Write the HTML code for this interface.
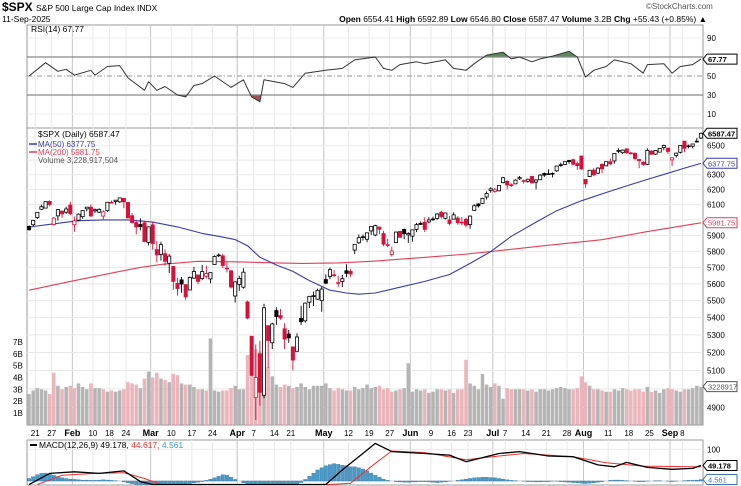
<!DOCTYPE html>
<html><head><meta charset="utf-8"><style>
html,body{margin:0;padding:0;background:#fff;width:741px;height:486px;overflow:hidden;}
svg{display:block;font-family:"Liberation Sans",sans-serif;}
</style></head><body>
<svg id="c" width="741" height="486" viewBox="0 0 741 486" xmlns="http://www.w3.org/2000/svg">
<text x="2" y="11" font-size="12" font-weight="bold">$SPX</text>
<text x="36" y="11" font-size="8.5">S&amp;P 500 Large Cap Index  INDX</text>
<text x="2" y="22" font-size="8.5">11-Sep-2025</text>
<text x="646" y="9" font-size="8" fill="#555">©StockCharts.com</text>
<text x="707" y="22" font-size="8.5" text-anchor="end"><tspan font-weight="bold">Open</tspan> 6554.41 <tspan font-weight="bold">High</tspan> 6592.89 <tspan font-weight="bold">Low</tspan> 6546.80 <tspan font-weight="bold">Close</tspan> 6587.47 <tspan font-weight="bold">Volume</tspan> 3.2B <tspan font-weight="bold">Chg</tspan> +55.43 (+0.85%) ▲</text>
<g id="g"></g>
</svg>
<script>
const closes=[5937,5997,6049,6086,6119,6101,6012,6067,6039,6071,6040,
5994,6037,6061,6083,6026,6066,6068,6052,6115,6114,6129,6144,6118,6013,5983,5955,5956,5861,5955,
5849,5778,5842,5738,5770,5615,5572,5599,5522,5639,5675,5615,5675,5663,5668,5768,5777,5712,5693,5581,5612,
5633,5671,5397,5074,5062,4982,5457,5268,5363,5406,5397,5276,5283,5158,5288,5376,5485,5525,5529,5561,5569,
5604,5687,5650,5607,5631,5664,5660,5844,5886,5892,5917,5958,5963,5940,5845,5842,5802,5922,5889,5912,5912,
5936,5970,5971,5939,6000,6006,6038,6022,6045,5977,6033,5982,5981,5967,6025,6092,6092,6141,6173,6205,
6198,6227,6279,6230,6226,6263,6280,6260,6269,6244,6264,6297,6297,6306,6309,6359,6363,6389,6390,6371,6362,6339,
6238,6330,6299,6345,6340,6389,6374,6446,6466,6469,6450,6449,6411,6396,6370,6467,6440,6466,6481,6502,6460,
6416,6448,6502,6482,6495,6512,6532,6587];
const opens=[5958,5969,6015,6069,6077,6121,5970,6026,6057,6050,6097,
5969,5998,6021,6072,6083,6059,6050,6025,6060,6115,6121,6118,6141,6114,6027,5983,5970,5981,5856,
5968,5811,5781,5785,5726,5706,5603,5624,5595,5563,5635,5654,5632,5646,5630,5718,5775,5772,5696,5679,5527,
5597,5580,5492,5292,4953,5193,4966,5353,5255,5441,5412,5335,5305,5232,5207,5395,5381,5490,5529,5508,5500,
5626,5645,5655,5605,5614,5680,5676,5808,5854,5887,5876,5929,5903,5954,5912,5842,5781,5855,5926,5939,5904,
5896,5939,5978,5985,5987,6005,6009,6050,6010,6000,6005,6012,5985,6004,5970,6062,6104,6108,6150,6194,
6187,6191,6246,6255,6232,6238,6272,6256,6255,6288,6249,6266,6308,6305,6306,6326,6368,6370,6397,6403,6376,6428,
6268,6287,6331,6310,6370,6360,6389,6394,6463,6451,6478,6445,6447,6404,6384,6371,6463,6441,6455,6487,6483,
6401,6432,6454,6532,6499,6496,6532,6554];
const highs=[5965,6000,6051,6100,6119,6128,6018,6070,6062,6087,6120,
6022,6042,6062,6084,6101,6074,6076,6063,6116,6127,6130,6147,6142,6114,6044,5992,6010,5994,5959,
5986,5865,5860,5812,5783,5706,5636,5642,5599,5645,5704,5654,5715,5711,5670,5775,5787,5784,5732,5685,5616,
5650,5695,5500,5292,5246,5267,5481,5353,5370,5460,5450,5368,5328,5233,5309,5469,5489,5528,5553,5571,5581,
5658,5700,5683,5649,5655,5720,5692,5845,5907,5906,5917,5959,5969,5954,5930,5878,5829,5924,5930,5944,5921,
5937,5981,5990,6017,6017,6021,6044,6060,6046,6026,6050,6024,6019,6014,6029,6102,6109,6146,6187,6215,
6210,6228,6284,6262,6242,6269,6291,6266,6272,6290,6269,6304,6315,6336,6316,6360,6382,6390,6401,6410,6390,6428,
6268,6330,6345,6350,6379,6390,6411,6446,6481,6474,6481,6456,6453,6409,6394,6482,6467,6469,6484,6508,6485,
6416,6452,6503,6532,6508,6513,6555,6593];
const lows=[5930,5960,6006,6066,6075,6088,5962,5995,6013,6039,6031,
5924,5991,6007,6055,6019,6046,6044,6003,6051,6107,6099,6111,6076,6009,5977,5908,5932,5858,5837,
5810,5732,5743,5711,5666,5564,5529,5546,5504,5563,5630,5597,5622,5632,5603,5718,5765,5695,5670,5572,5488,
5558,5571,5390,5069,4835,4910,4950,5115,5220,5358,5387,5220,5255,5101,5207,5356,5371,5456,5468,5505,5434,
5598,5629,5640,5582,5580,5640,5643,5782,5846,5867,5857,5904,5895,5909,5833,5826,5767,5855,5885,5876,5853,
5861,5921,5967,5922,5978,5994,6001,6008,6003,5964,6005,5969,5966,5952,5943,6059,6080,6105,6133,6178,
6178,6188,6241,6201,6217,6236,6264,6240,6246,6243,6201,6264,6285,6303,6282,6318,6354,6365,6375,6364,6333,6333,
6212,6287,6289,6305,6309,6359,6364,6375,6447,6441,6445,6438,6399,6344,6360,6365,6438,6436,6454,6468,6444,
6360,6418,6445,6454,6482,6481,6521,6547];
const volumes=[2.6,2.9,3.1,3.0,2.9,2.6,4.4,3.3,3.0,3.2,3.3,
3.1,3.5,3.2,3.0,3.5,3.1,3.1,3.0,2.8,2.9,2.8,2.9,3.0,3.6,3.5,3.4,3.1,3.9,4.5,
4.0,4.4,3.9,3.8,3.6,4.3,4.2,3.5,3.4,3.4,3.2,3.0,3.0,2.9,7.3,2.9,2.8,2.9,2.9,3.1,3.3,
3.0,3.0,5.9,6.5,6.4,6.2,6.6,4.9,4.1,3.4,3.2,3.4,3.3,3.1,3.2,3.5,3.2,3.0,3.3,3.3,3.3,
3.5,3.1,2.9,3.1,3.0,2.9,2.9,3.2,3.0,3.1,3.4,3.1,3.2,3.3,3.0,3.1,2.8,2.9,3.0,3.1,5.2,
2.8,3.0,2.9,3.0,2.7,2.8,3.0,3.0,2.9,3.0,2.7,3.0,3.0,5.5,3.5,3.3,3.0,4.3,3.4,3.2,
3.5,3.3,2.2,3.1,3.0,3.0,3.0,3.0,2.9,3.0,2.8,3.0,3.0,2.9,3.0,3.1,3.2,3.1,3.0,3.0,3.1,4.1,
3.6,3.3,3.0,3.0,2.9,2.8,2.8,3.0,2.9,3.1,3.0,2.9,3.0,3.0,2.8,3.2,2.8,2.9,2.7,3.0,3.1,
3.0,2.9,2.8,3.0,3.0,3.1,3.3,3.2];
const ma50Days=[0,6,12,18,24,30,36,42,46,50,53,56,60,64,68,73,77,80,84,90,96,102,107,112,117,123,128,134,140,145,150,155,159,163];
const ma50Vals=[5954,5975,5995,6000,6000,5986,5955,5913,5895,5874,5835,5763,5715,5676,5620,5562,5545,5538,5545,5580,5615,5657,5725,5798,5895,5986,6060,6125,6180,6224,6268,6310,6345,6377];
const ma200Days=[0,10,22,27,32,41,50,60,66,75,83,95,105,112,125,139,150,163];
const ma200Vals=[5562,5615,5676,5700,5719,5738,5735,5728,5725,5728,5738,5760,5780,5798,5835,5873,5925,5981];
const rsiDays=[0,4,7,9,11,15,16,19,22,24,28,29,31,33,36,38,40,42,45,49,52,54,56,57,62,64,67,72,76,79,84,86,88,90,94,96,101,103,106,108,111,115,117,119,122,124,127,131,133,135,137,140,142,146,149,150,154,156,158,161,163];
const rsiVals=[50,64,55,57,51,56,51,60,61,48,35,44,35,39,30,28,40,42,50,38,46,28,23,46,42,38,53,56,58,67,70,58,56,62,65,63,67,58,56,63,72,75,68,70,65,68,71,76,70,49,56,60,67,63,53,62,63,53,60,62,67.77];
const macdDays=[0,5,11,17,23,27,30,36,45,55,65,72,76,80,84,88,96,102,106,114,119,126,132,138,142,145,150,156,161,163];
const macdVals=[-16,24,29,24,32,-2,-30,-60,-50,-130,-100,-16,35,77,119,93,87,82,61,87,93,79,77,51,45,59,43,37,40,49.178];
const sigDays=[2,8,16,23,28,32,50,65,73,78,84,88,96,106,114,120,132,140,149,163];
const sigVals=[-23,18,24,26,8,-20,-40,-75,-50,-7,56,95,90,67,79,87,77,58,47,44.617];
const hist=[8,14,20,24,25,22,18,14,10,8,6,5,4,3,3,2,2,3,4,3,2,1,0,-3,-6,-9,-12,
-15,-18,-20,-22,-22,-21,-20,-18,-16,-14,-12,-10,-8,-6,-4,-2,2,6,10,15,20,18,12,
5,0,-6,-12,-16,-20,-22,-24,-25,-25,-24,-22,-20,-18,-14,-10,-5,
5,15,25,35,42,48,52,55,53,50,48,45,45,42,38,32,25,18,12,6,2,0,
-2,-3,-4,-4,-3,-3,-2,-2,-3,-4,-5,-4,-3,-1,0,2,4,
6,8,10,11,12,12,11,10,8,6,4,2,1,0,-1,-2,-2,-3,-3,-2,-2,-1,-1,-2,-3,-4,-5,
-6,-7,-8,-7,-6,-4,-2,0,2,3,3,2,1,0,-1,-2,-2,-1,0,1,1,0,-1,-2,-1,0,1,2,2,3,4.561];
const tickDays=[2,6,11,16,20,24,30,35,40,45,51,55,60,64,72,78,83,88,93,98,103,107,113,116,121,126,131,135,141,146,151,156,159];
const tickLabels=['21','27','Feb','10','18','24','Mar','10','17','24','Apr','7','14','21','May','12','19','27','Jun','9','16','23','Jul','7','14','21','28','Aug','11','18','25','Sep','8'];
const monthTicks=['Feb','Mar','Apr','May','Jun','Jul','Aug','Sep'];
const priceTicks=[4900,5100,5200,5300,5400,5500,5600,5700,5800,5900,6100,6200,6300,6500];
const priceGrid=[4900,5000,5100,5200,5300,5400,5500,5600,5700,5800,5900,6000,6100,6200,6300,6400,6500];
const volTicks=[1,2,3,4,5,6,7];
const rsiTicks=[10,30,50,90];

const NS='http://www.w3.org/2000/svg';
const G=document.getElementById('g');
const L=27,R=703,N=164,STEP=(R-L)/N;
const X=i=>L+(i+0.5)*STEP;
const PY=v=>145.7+927*Math.log(6500/v);
const VY=v=>424.8-v*11.83;
const RY=v=>114-(v-10)*0.95;
const MY=v=>Math.min(484.5,481-v*0.316);
function mk(t,a,name,parent){const e=document.createElementNS(NS,t);for(const k in a)e.setAttribute(k,a[k]);


(parent||G).appendChild(e);return e;}
function txt(x,y,s,name,a){const e=mk('text',Object.assign({x:x,y:y,'font-size':8},a||{}),name);e.textContent=s;return e;}
function pts(days,vals,f){return days.map((d,k)=>X(d).toFixed(1)+','+f(vals[k]).toFixed(1)).join(' ');}
function poly(days,vals,f,name,a){return mk('polyline',Object.assign({points:pts(days,vals,f),fill:'none','stroke-linejoin':'round'},a),name);}

const panels=[[25,128,'rsi-panel'],[128,425,'price-panel'],[440,485,'macd-panel']];
panels.forEach(p=>mk('rect',{x:L,y:p[0],width:R-L,height:p[1]-p[0],fill:'#fff',stroke:'#999','stroke-width':1},p[2]));
tickDays.forEach((d,k)=>{const x=L+d*STEP;const isM=monthTicks.includes(tickLabels[k]);
panels.forEach(p=>mk('line',{x1:x,x2:x,y1:p[0],y2:p[1],stroke:isM?'#c4c4c4':'#e8e8e8','stroke-width':1},'v-gridline'));
txt(x,436,tickLabels[k],'date-label',{'text-anchor':'middle','font-weight':isM?'bold':'normal','font-size':isM?9:8});});
priceGrid.forEach(v=>mk('line',{x1:L,x2:R,y1:PY(v),y2:PY(v),stroke:'#e8e8e8'},'price-gridline'));
priceTicks.forEach(v=>txt(707,PY(v)+3,String(v),'price-tick-label'));
volTicks.forEach(v=>txt(13,VY(v)+3,v+'B','volume-tick-label'));
[90,10].forEach(v=>mk('line',{x1:L,x2:R,y1:RY(v),y2:RY(v),stroke:'#eee'},'rsi-gridline'));
const areaPts=pts(rsiDays,rsiVals,RY);
const ca=mk('clipPath',{id:'ob'},'rsi-ob-clip');mk('rect',{x:L,y:25,width:R-L,height:RY(70)-25},'rsi-ob-rect',ca);
const cb=mk('clipPath',{id:'os'},'rsi-os-clip');mk('rect',{x:L,y:RY(30),width:R-L,height:128-RY(30)},'rsi-os-rect',cb);
mk('polygon',{points:`${X(0)},${RY(70)} ${areaPts} ${X(163)},${RY(70)}`,fill:'#5a8a5a','clip-path':'url(#ob)'},'rsi-overbought-fill');
mk('polygon',{points:`${X(0)},${RY(30)} ${areaPts} ${X(163)},${RY(30)}`,fill:'#a05050','clip-path':'url(#os)'},'rsi-oversold-fill');
[[70,'#888',''],[30,'#888',''],[50,'#aaa','5,2,1,2']].forEach(l=>mk('line',{x1:L,x2:R,y1:RY(l[0]),y2:RY(l[0]),stroke:l[1],'stroke-dasharray':l[2],'stroke-width':1.2},'rsi-level-line'));
rsiTicks.forEach(v=>txt(707,RY(v)+3,String(v),'rsi-tick-label'));
poly(rsiDays,rsiVals,RY,'rsi-line',{stroke:'#333','stroke-width':1});
txt(31,32,'RSI(14) 67.77','rsi-legend',{'font-size':8.5});
for(let i=0;i<N;i++){const dn=i>0&&closes[i]<closes[i-1];
mk('rect',{x:X(i)-STEP/2+0.3,y:VY(volumes[i]),width:STEP-0.6,height:424.8-VY(volumes[i]),fill:dn?'#e8a8b0':'#a8a8a8',opacity:0.85},'volume-bar');}
poly(ma200Days,ma200Vals,PY,'ma200-line',{stroke:'#e0405a','stroke-width':1.1});
poly(ma50Days,ma50Vals,PY,'ma50-line',{stroke:'#3b3ba8','stroke-width':1.1});
for(let i=0;i<N;i++){const dn=i>0&&closes[i]<closes[i-1];const col=dn?'#d8103c':'#000';const x=X(i);
mk('line',{x1:x,x2:x,y1:PY(highs[i]),y2:PY(lows[i]),stroke:col,'stroke-width':0.9},'candle-wick');
const t=PY(Math.max(opens[i],closes[i])),b=PY(Math.min(opens[i],closes[i]));
mk('rect',{x:x-1.6,y:t,width:3.2,height:Math.max(b-t,0.8),fill:closes[i]<opens[i]?col:'#fff',stroke:col,'stroke-width':0.8},'candle-body');}
txt(38,137,'$SPX (Daily) 6587.47','price-legend',{'font-size':8.5});
mk('line',{x1:29,x2:37,y1:144,y2:144,stroke:'#3b3ba8','stroke-width':1.5},'ma50-legend-swatch');
txt(38,147,'MA(50) 6377.75','ma50-legend',{fill:'#3b3ba8'});
mk('line',{x1:29,x2:37,y1:152,y2:152,stroke:'#e0405a','stroke-width':1.5},'ma200-legend-swatch');
txt(38,155,'MA(200) 5981.75','ma200-legend',{fill:'#e0405a'});
txt(38,163,'Volume 3,228,917,504','volume-legend',{fill:'#555'});
mk('line',{x1:L,x2:R,y1:MY(100),y2:MY(100),stroke:'#e8e8e8'},'macd-gridline');
mk('line',{x1:L,x2:R,y1:MY(0),y2:MY(0),stroke:'#ccc'},'macd-zero-line');
const cp=mk('clipPath',{id:'mc'},'macd-clip');mk('rect',{x:L,y:440,width:R-L,height:45},'macd-clip-rect',cp);
const mg=mk('g',{'clip-path':'url(#mc)'},'macd-series');
hist.forEach((v,i)=>{const y0=MY(0),y1=MY(v);mk('rect',{x:X(i)-STEP/2+0.3,y:Math.min(y0,y1),width:STEP-0.6,height:Math.abs(y1-y0),fill:'#4a9ac8',stroke:'#2a6a98','stroke-width':0.3},'macd-histogram-bar',mg);});
const p1=poly(sigDays,sigVals,MY,'macd-signal-line',{stroke:'#f03030','stroke-width':1});mg.appendChild(p1);
const p2=poly(macdDays,macdVals,MY,'macd-line',{stroke:'#000','stroke-width':1.3});mg.appendChild(p2);
txt(707,MY(100)+3,'100','macd-tick-label');
const ml=txt(39,448,'','macd-legend',{'font-size':8.5});
ml.innerHTML='<tspan>MACD(12,26,9) 49.178, </tspan><tspan fill="#f03030">44.617, </tspan><tspan fill="#3a9ad0">4.561</tspan>';
mk('line',{x1:30,x2:37,y1:445,y2:445,stroke:'#000','stroke-width':2},'macd-legend-swatch');
function tag(y,s,col,name){mk('path',{d:`M${R} ${y} l4 -5 h30 v10 h-30 z`,fill:'#fff',stroke:col,'stroke-width':1},name+'-box');
txt(708,y+3,s,name,{fill:col,'font-size':7.5,'font-weight':col==='#000'?'bold':'normal'});}
tag(RY(67.77),'67.77','#000','rsi-value-tag');
tag(PY(6587.47),'6587.47','#000','close-value-tag');
tag(PY(6377.75),'6377.75','#3b3ba8','ma50-value-tag');
tag(PY(5981.75),'5981.75','#e0405a','ma200-value-tag');
tag(VY(3.23),'3228917','#555','volume-value-tag');
tag(MY(49.178),'49.178','#000','macd-value-tag');
tag(MY(4.561),'4.561','#3a7ab0','histogram-value-tag');
</script>
</body></html>
